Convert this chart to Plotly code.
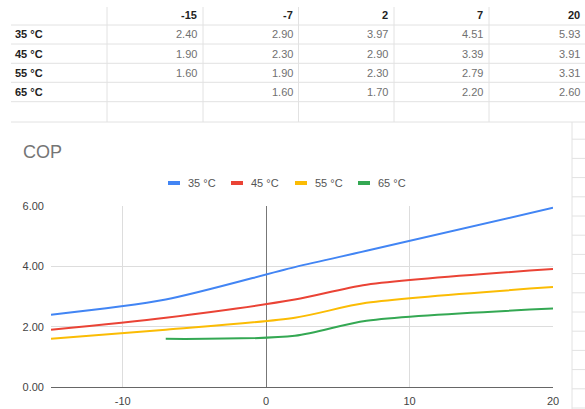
import plotly.graph_objects as go

W, H = 585, 409

# ---- data ----
temps = [-15, -7, 2, 7, 20]
series_names = ["35 °C", "45 °C", "55 °C", "65 °C"]
cop_35 = [2.40, 2.90, 3.97, 4.51, 5.93]
cop_45 = [1.90, 2.30, 2.90, 3.39, 3.91]
cop_55 = [1.60, 1.90, 2.30, 2.79, 3.31]
cop_65 = [None, 1.60, 1.70, 2.20, 2.60]
series_values = [cop_35, cop_45, cop_55, cop_65]
colors = ["#4285F4", "#EA4335", "#FBBC04", "#34A853"]
x_tick_vals = [-10, 0, 10, 20]
x_tick_text = ["-10", "0", "10", "20"]
y_tick_vals = [0, 2, 4, 6]
chart_title = "COP"

FONT = "Arial, 'Liberation Sans', sans-serif"


def px(x):
    return x / W


def py(y):
    return 1 - y / H


fig = go.Figure()

for name, vals, col in zip(series_names, series_values, colors):
    fig.add_trace(go.Scatter(
        x=temps, y=vals, name=name, mode="lines",
        line=dict(color=col, width=2, shape="spline", smoothing=0.8),
        connectgaps=False, showlegend=False, hoverinfo="x+y+name"))

shapes = []
annotations = []
grid_col = "#e2e2e2"

# ---- spreadsheet table ----
col_edges = [107, 203, 298.5, 394, 489, 586]
row_lines = [25, 44, 63.3, 82.3, 101.7, 122]
row_centers = [15, 34.5, 53.7, 72.8, 92]
for yv in row_lines:
    shapes.append(dict(type="line", xref="paper", yref="paper",
                       x0=px(11), x1=px(585), y0=py(yv), y1=py(yv),
                       line=dict(color=grid_col, width=1)))
for xv in col_edges[:-1]:
    shapes.append(dict(type="line", xref="paper", yref="paper",
                       x0=px(xv), x1=px(xv), y0=py(7), y1=py(122),
                       line=dict(color=grid_col, width=1)))
# header
for j, t in enumerate(temps):
    annotations.append(dict(xref="paper", yref="paper", x=px(col_edges[j + 1] - 4),
                            y=py(row_centers[0]), text="<b>%d</b>" % t, showarrow=False,
                            xanchor="right", yanchor="middle",
                            font=dict(family=FONT, size=11, color="#222222")))
# rows
for i, (name, vals) in enumerate(zip(series_names, series_values)):
    yc = py(row_centers[i + 1])
    annotations.append(dict(xref="paper", yref="paper", x=px(13), y=yc,
                            text="<b>%s</b>" % name, showarrow=False,
                            xanchor="left", yanchor="middle",
                            font=dict(family=FONT, size=11, color="#222222")))
    for j, v in enumerate(vals):
        if v is None:
            continue
        annotations.append(dict(xref="paper", yref="paper", x=px(col_edges[j + 1] - 4),
                                y=yc, text="%.2f" % v, showarrow=False,
                                xanchor="right", yanchor="middle",
                                font=dict(family=FONT, size=11, color="#707070")))

# right side spreadsheet grid beyond chart
shapes.append(dict(type="line", xref="paper", yref="paper",
                   x0=px(572), x1=px(572), y0=py(122), y1=py(409),
                   line=dict(color=grid_col, width=1)))
yv = 139.2
while yv < 409:
    shapes.append(dict(type="line", xref="paper", yref="paper",
                       x0=px(572), x1=px(585), y0=py(yv), y1=py(yv),
                       line=dict(color=grid_col, width=1)))
    yv += 19.2

# ---- chart title ----
annotations.append(dict(xref="paper", yref="paper", x=px(21), y=py(152),
                        text=chart_title, showarrow=False, xanchor="left",
                        yanchor="middle",
                        font=dict(family=FONT, size=18, color="#757575")))

# ---- legend (manual) ----
leg_x = [168, 231, 295, 358]
leg_y = 183
for name, col, lx in zip(series_names, colors, leg_x):
    shapes.append(dict(type="rect", xref="paper", yref="paper",
                       x0=px(lx), x1=px(lx + 12), y0=py(leg_y + 2), y1=py(leg_y - 2),
                       fillcolor=col, line=dict(width=0)))
    annotations.append(dict(xref="paper", yref="paper", x=px(lx + 18), y=py(leg_y),
                            text=name, showarrow=False, xanchor="left",
                            yanchor="middle",
                            font=dict(family=FONT, size=11, color="#555555")))

fig.update_layout(
    width=W, height=H,
    margin=dict(l=0, r=0, t=0, b=0, autoexpand=False),
    paper_bgcolor="white", plot_bgcolor="white",
    showlegend=False,
    shapes=shapes, annotations=annotations,
    font=dict(family=FONT, size=11, color="#444444"),
    xaxis=dict(domain=[px(51), px(553)], range=[-15, 20],
               tickvals=x_tick_vals, ticktext=x_tick_text,
               showgrid=True, gridcolor="#dddddd", gridwidth=1,
               zeroline=True, zerolinecolor="#777777", zerolinewidth=1,
               showline=False, ticks="", ticklabelstandoff=6, automargin=False,
               tickfont=dict(family=FONT, size=11, color="#444444"),
               fixedrange=True),
    yaxis=dict(domain=[py(387.3), py(205.7)], range=[0, 6],
               tickvals=y_tick_vals, tickformat=".2f",
               showgrid=True, gridcolor="#dddddd", gridwidth=1,
               zeroline=True, zerolinecolor="#666666", zerolinewidth=1,
               showline=False, ticks="", ticklabelstandoff=6, automargin=False,
               tickfont=dict(family=FONT, size=11, color="#444444"),
               fixedrange=True),
)

fig.write_html("out.html", config={"displayModeBar": False})
